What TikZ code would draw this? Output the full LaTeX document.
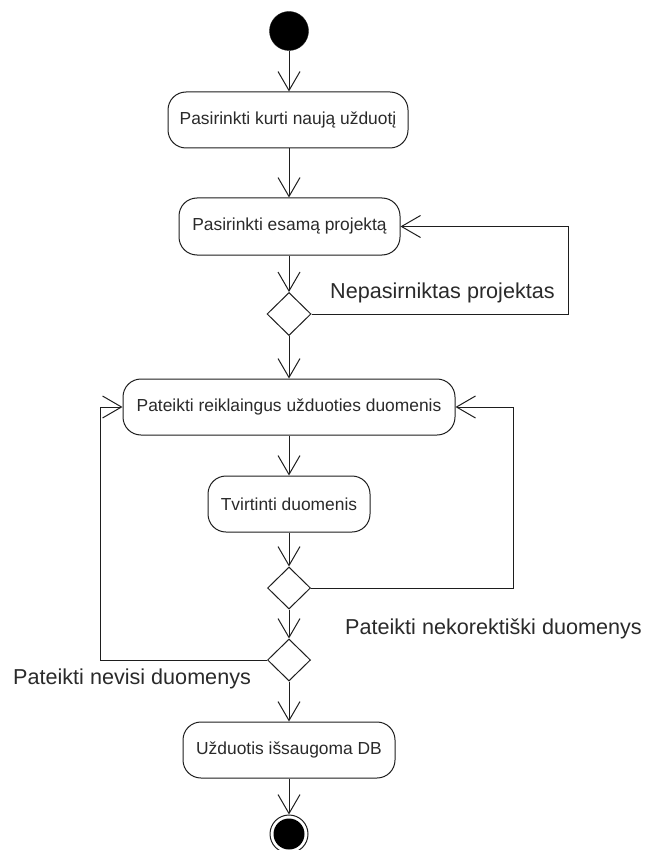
\documentclass[tikz,border=0pt]{standalone}
\usepackage{fontspec}
\setmainfont{Liberation Sans}
\usetikzlibrary{arrows.meta,shapes.geometric}
\definecolor{ln}{HTML}{1E1E1E}
\definecolor{tx}{HTML}{2A2A2A}
\tikzset{
  act/.style={draw=ln, line width=1pt, rounded corners=18pt, fill=white, text=tx,
    font=\fontsize{17.4}{20}\selectfont, inner sep=0pt},
  dec/.style={draw=ln, line width=1pt, diamond, fill=white, inner sep=0pt, aspect=1},
  lbl/.style={text=tx, font=\fontsize{21.6}{26}\selectfont, inner sep=0pt, anchor=base west},
  flow/.style={draw=ln, line width=1pt, -{Straight Barb[length=19pt,width=22pt]}},
  plain/.style={draw=ln, line width=1pt}
}
\begin{document}
\begin{tikzpicture}[x=1pt,y=-1pt]
\useasboundingbox (0,0) rectangle (647,850);
% start
\node[circle, fill=black, draw=ln, minimum size=39pt, inner sep=0pt] (start) at (289,31) {};
% activities
\node[act, minimum width=240pt, minimum height=56pt] (b1) at (288,120) {Pasirinkti kurti naują užduotį};
\node[act, minimum width=221pt, minimum height=57pt] (b2) at (289.5,226.5) {Pasirinkti esamą projektą};
\node[dec, minimum width=44pt, minimum height=43pt] (d1) at (289,314) {};
\node[act, minimum width=332pt, minimum height=56pt] (b3) at (289,407) {Pateikti reiklaingus užduoties duomenis};
\node[act, minimum width=162pt, minimum height=56pt] (b4) at (289,504) {Tvirtinti duomenis};
\node[dec, minimum width=43pt, minimum height=42pt] (d2) at (289,588) {};
\node[dec, minimum width=43pt, minimum height=42pt] (d3) at (289,660) {};
\node[act, minimum width=212pt, minimum height=56pt] (b5) at (289,750) {Užduotis išsaugoma DB};
% end
\node[circle, draw=ln, line width=1pt, fill=white, minimum size=38pt, inner sep=0pt] (end) at (289,834) {};
\fill[black] (end.center) circle (15.5pt);
% corner coordinates
\coordinate (r1a) at (568,314);
\coordinate (r1b) at (568,226.5);
\coordinate (r2a) at (513,588);
\coordinate (r2b) at (513,407);
\coordinate (l3a) at (100,660);
\coordinate (l3b) at (100,407);
% flows
\draw[flow] (start.south) -- (start.south |- b1.north);
\draw[flow] (b1.south -| 289,0) -- (289,0 |- b2.north);
\draw[flow] (b2.south -| 289,0) -- (d1.north);
\draw[flow] (d1.south) -- (b3.north);
\draw[flow] (b3.south) -- (b4.north);
\draw[flow] (b4.south) -- (d2.north);
\draw[flow] (d2.south) -- (d3.north);
\draw[flow] (d3.south) -- (b5.north);
\draw[flow] (b5.south) -- (end.north);
\draw[flow] (d1.east) -- (r1a) -- (r1b) -- (b2.east);
\draw[flow] (d2.east) -- (r2a) -- (r2b) -- (b3.east);
\draw[flow] (d3.west) -- (l3a) -- (l3b) -- (b3.west);
% labels
\node[lbl] (L1) at (330,298.5) {Nepasirniktas projektas};
\node[lbl] (L2) at (345,634) {Pateikti nekorektiški duomenys};
\node[lbl] (L3) at (13,684) {Pateikti nevisi duomenys};
\end{tikzpicture}
\end{document}
